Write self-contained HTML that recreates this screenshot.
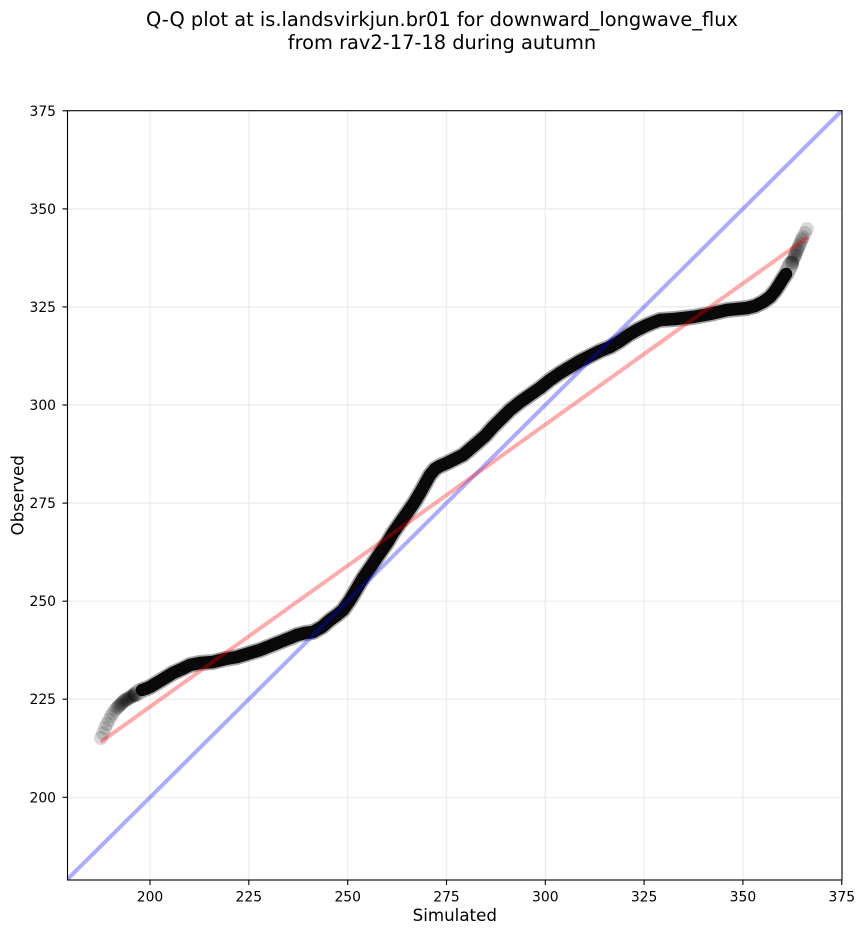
<!DOCTYPE html>
<html>
<head>
<meta charset="utf-8">
<style>
html,body{margin:0;padding:0;background:#fff;}
svg{display:block;}
text{font-family:"DejaVu Sans","Liberation Sans",sans-serif;fill:#000;}
</style>
</head>
<body>
<svg width="864" height="934" viewBox="0 0 864 934" xmlns="http://www.w3.org/2000/svg">
<rect x="0" y="0" width="864" height="934" fill="#fff"/>
<text x="442" y="26" font-size="19.4" text-anchor="middle">Q-Q plot at is.landsvirkjun.br01 for downward_longwave_flux</text>
<text x="442" y="49" font-size="19.4" text-anchor="middle">from rav2-17-18 during autumn</text>

<defs><clipPath id="ax"><rect x="67.5" y="110.7" width="774.5" height="769.3"/></clipPath></defs>

<g stroke="#ebebeb" stroke-width="1.2">
<line x1="150" y1="110.7" x2="150" y2="880"/>
<line x1="248.8" y1="110.7" x2="248.8" y2="880"/>
<line x1="347.7" y1="110.7" x2="347.7" y2="880"/>
<line x1="446.5" y1="110.7" x2="446.5" y2="880"/>
<line x1="545.3" y1="110.7" x2="545.3" y2="880"/>
<line x1="644.1" y1="110.7" x2="644.1" y2="880"/>
<line x1="742.9" y1="110.7" x2="742.9" y2="880"/>
<line x1="67.5" y1="797.3" x2="842" y2="797.3"/>
<line x1="67.5" y1="699.2" x2="842" y2="699.2"/>
<line x1="67.5" y1="601.2" x2="842" y2="601.2"/>
<line x1="67.5" y1="503.1" x2="842" y2="503.1"/>
<line x1="67.5" y1="405" x2="842" y2="405"/>
<line x1="67.5" y1="306.9" x2="842" y2="306.9"/>
<line x1="67.5" y1="208.9" x2="842" y2="208.9"/>
</g>

<g clip-path="url(#ax)">
<g fill="#000" fill-opacity="0.15">
<circle cx="101" cy="738" r="7"/><circle cx="103" cy="733" r="7"/><circle cx="105" cy="728" r="7"/>
<circle cx="107" cy="724" r="7"/><circle cx="109" cy="720" r="7"/><circle cx="111" cy="716" r="7"/>
<circle cx="113" cy="713" r="7"/><circle cx="115" cy="710" r="7"/><circle cx="117" cy="708" r="7"/>
<circle cx="118" cy="707" r="7"/><circle cx="119" cy="706" r="7"/><circle cx="120" cy="705" r="7"/>
<circle cx="121" cy="704" r="7"/><circle cx="122" cy="703" r="7"/><circle cx="123" cy="702" r="7"/>
<circle cx="124" cy="701" r="7"/><circle cx="125" cy="700" r="7"/><circle cx="126" cy="700" r="7"/>
<circle cx="127" cy="699" r="7"/><circle cx="128" cy="699" r="7"/><circle cx="129" cy="698" r="7"/>
<circle cx="130" cy="697" r="7"/><circle cx="131" cy="697" r="7"/><circle cx="132" cy="696" r="7"/>
<circle cx="133" cy="696" r="7"/><circle cx="134" cy="695" r="7"/><circle cx="135" cy="694" r="7"/>
<circle cx="807" cy="229" r="7"/><circle cx="805" cy="233" r="7"/><circle cx="803" cy="237" r="7"/>
<circle cx="802" cy="239" r="7"/><circle cx="801" cy="241" r="7"/><circle cx="800" cy="244" r="7"/>
<circle cx="799" cy="246" r="7"/><circle cx="798" cy="248" r="7"/><circle cx="797" cy="250" r="7"/>
<circle cx="797" cy="251" r="7"/><circle cx="796" cy="253" r="7"/><circle cx="795" cy="255" r="7"/>
<circle cx="795" cy="256" r="7"/><circle cx="794" cy="258" r="7"/><circle cx="793" cy="260" r="7"/>
<circle cx="792" cy="262" r="7"/><circle cx="792" cy="263" r="7"/>
</g>
<polyline fill="none" stroke="#000" stroke-opacity="0.35" stroke-width="16" stroke-linejoin="round" stroke-linecap="round"
points="136,694 140,691 145,689 150,687 160,681 173,673 182,669 190,665 200,663 213,662 225,659 237,657 250,653 260,650 270,646 280,642 290,638 297,635 305,633 313,632 322,627 330,620 337,615 343,610 350,600 356,590 363,578 372,565 380,553 387,543 393,533 400,523 407,513 414,503 420,493 425,484 430,475 435,469 440,466 447,463 455,459 463,455 470,449 477,443 485,436 493,427 500,420 510,410 520,402 530,395 540,388 550,380 560,373 570,367 580,361 590,356 600,351 610,347 620,341 630,334 637,330 645,326 652,323 660,320 675,319 693,317 710,314 727,310 737,309 747,308 755,306 763,302 770,297 775,291 779,285 782,280 786,274 789,268 791,264"/>
<polyline fill="none" stroke="#000" stroke-opacity="0.95" stroke-width="12.5" stroke-linejoin="round" stroke-linecap="round"
points="142,690 145,689 150,687 160,681 173,673 182,669 190,665 200,663 213,662 225,659 237,657 250,653 260,650 270,646 280,642 290,638 297,635 305,633 313,632 322,627 330,620 337,615 343,610 350,600 356,590 363,578 372,565 380,553 387,543 393,533 400,523 407,513 414,503 420,493 425,484 430,475 435,469 440,466 447,463 455,459 463,455 470,449 477,443 485,436 493,427 500,420 510,410 520,402 530,395 540,388 550,380 560,373 570,367 580,361 590,356 600,351 610,347 620,341 630,334 637,330 645,326 652,323 660,320 675,319 693,317 710,314 727,310 737,309 747,308 755,306 763,302 770,297 775,291 779,285 782,280 786,274"/>

<line x1="67.5" y1="879.2" x2="842" y2="110.5" stroke="#0000ff" stroke-opacity="0.33" stroke-width="4"/>
<line x1="100.7" y1="742" x2="808" y2="237" stroke="#ff0000" stroke-opacity="0.33" stroke-width="4"/>
</g>

<rect x="67.5" y="110.7" width="774.5" height="769.3" fill="none" stroke="#000" stroke-width="1.1"/>

<g stroke="#000" stroke-width="1.1">
<line x1="150" y1="880" x2="150" y2="885"/>
<line x1="248.8" y1="880" x2="248.8" y2="885"/>
<line x1="347.7" y1="880" x2="347.7" y2="885"/>
<line x1="446.5" y1="880" x2="446.5" y2="885"/>
<line x1="545.3" y1="880" x2="545.3" y2="885"/>
<line x1="644.1" y1="880" x2="644.1" y2="885"/>
<line x1="742.9" y1="880" x2="742.9" y2="885"/>
<line x1="841.8" y1="880" x2="841.8" y2="885"/>
<line x1="62.5" y1="797.3" x2="67.5" y2="797.3"/>
<line x1="62.5" y1="699.2" x2="67.5" y2="699.2"/>
<line x1="62.5" y1="601.2" x2="67.5" y2="601.2"/>
<line x1="62.5" y1="503.1" x2="67.5" y2="503.1"/>
<line x1="62.5" y1="405" x2="67.5" y2="405"/>
<line x1="62.5" y1="306.9" x2="67.5" y2="306.9"/>
<line x1="62.5" y1="208.9" x2="67.5" y2="208.9"/>
<line x1="62.5" y1="110.8" x2="67.5" y2="110.8"/>
</g>
<g font-size="13.9" text-anchor="middle">
<text x="150" y="901.5">200</text>
<text x="248.8" y="901.5">225</text>
<text x="347.7" y="901.5">250</text>
<text x="446.5" y="901.5">275</text>
<text x="545.3" y="901.5">300</text>
<text x="644.1" y="901.5">325</text>
<text x="742.9" y="901.5">350</text>
<text x="841.8" y="901.5">375</text>
</g>
<g font-size="13.9" text-anchor="end">
<text x="56" y="802.3">200</text>
<text x="56" y="704.2">225</text>
<text x="56" y="606.2">250</text>
<text x="56" y="508.1">275</text>
<text x="56" y="410">300</text>
<text x="56" y="311.9">325</text>
<text x="56" y="213.9">350</text>
<text x="56" y="115.8">375</text>
</g>
<text x="454.8" y="921" font-size="16.7" text-anchor="middle">Simulated</text>
<text transform="translate(23.5,495.3) rotate(-90)" x="0" y="0" font-size="16.7" text-anchor="middle">Observed</text>
</svg>
</body>
</html>
